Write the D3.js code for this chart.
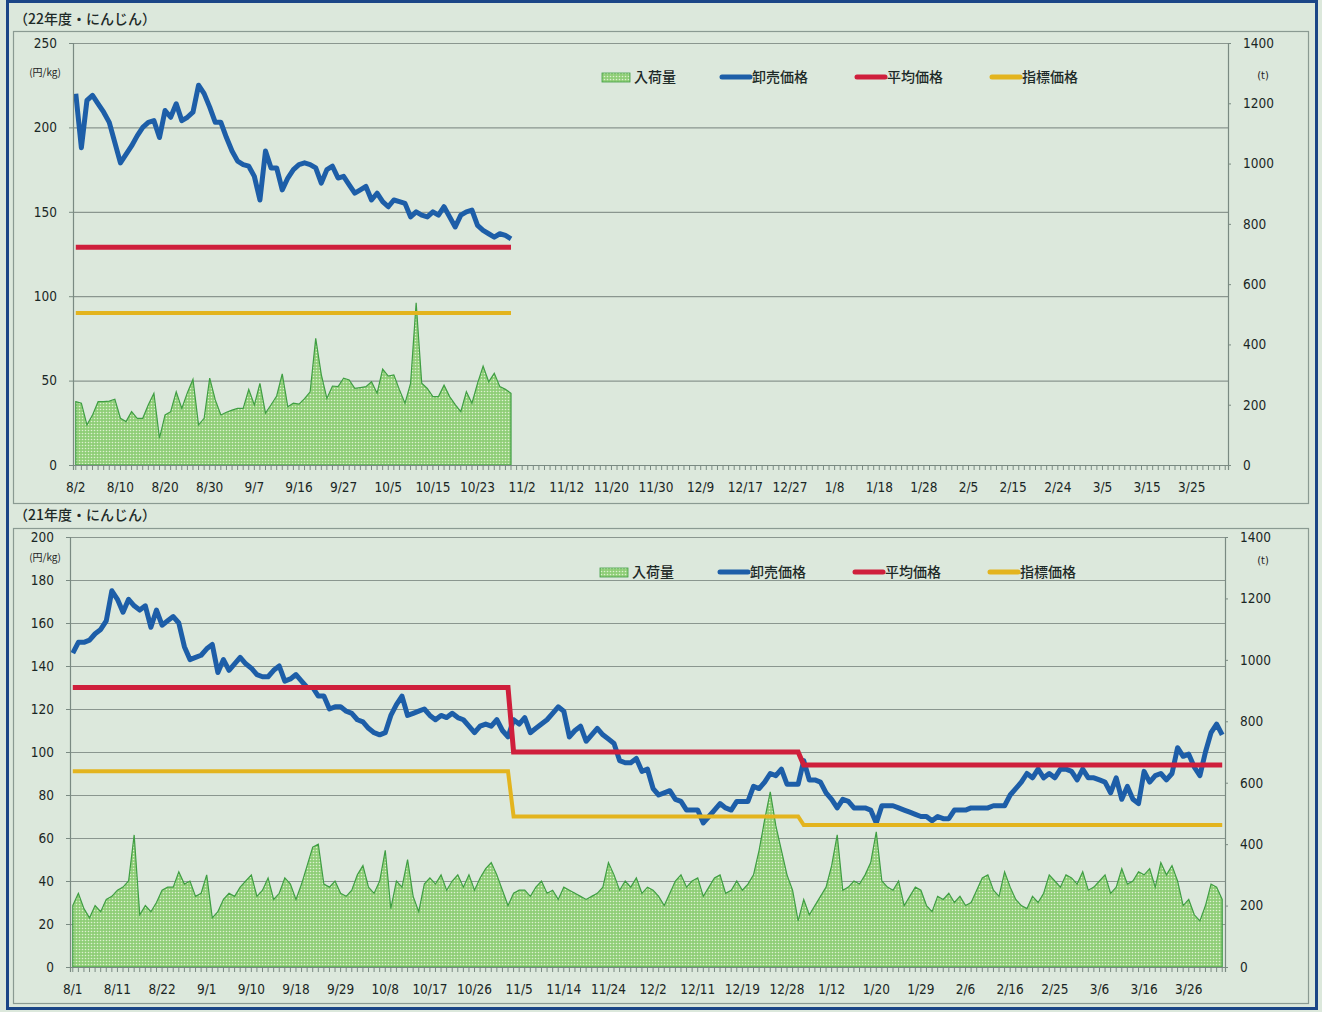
<!DOCTYPE html>
<html>
<head>
<meta charset="utf-8">
<script src="https://cdnjs.cloudflare.com/ajax/libs/d3/7.8.5/d3.min.js"></script>
<style>
  body { margin: 0; background: #dce8dc; }
  svg { display: block; }
</style>
</head>
<body>
<svg></svg>
<script>
// 22年度 (top) - market days from 8/2
var price22 = [220,188,216,219,214,209,203,191,179,184,189,195,200,203,204,194,210,206,214,204,
  206,209,225,220,212,203,203,194,186,180,178,177,171,157,186,176,176,163,170,175,
  178,179,178,176,167,175,177,170,171,166,161,163,165,157,161,156,153,157,156,155,
  147,150,148,147,150,148,153,147,141,148,150,151,142,139,137,135,137,136,134];
var volume22 = [210,205,133,166,210,210,212,218,155,144,177,155,155,200,238,89,166,177,243,188,
  240,284,133,155,288,216,166,175,182,188,188,251,199,271,172,200,229,302,193,205,
  202,220,243,420,300,221,262,260,288,282,254,257,260,276,238,318,295,299,250,205,
  271,538,271,254,227,227,265,227,200,177,243,205,271,328,276,304,260,251,238];
var avgLevels22 = [129];
var idxLevels22 = [90];
var breaks22 = [];
var ticks22 = ["8/2","8/10","8/20","8/30","9/7","9/16","9/27","10/5","10/15","10/23","11/2","11/12","11/20",
  "11/30","12/9","12/17","12/27","1/8","1/18","1/28","2/5","2/15","2/24","3/5","3/15","3/25"];

// 21年度 (bottom) - market days from 8/1
var price21 = [146,151,151,152,155,157,161,175,171,165,171,168,166,168,158,166,159,161,163,160,
  149,143,144,145,148,150,137,143,138,141,144,141,139,136,135,135,138,140,133,134,
  136,133,130,130,126,126,120,121,121,119,118,115,114,111,109,108,109,117,122,126,
  117,118,119,120,117,115,117,116,118,116,115,112,109,112,113,112,115,110,107,115,
  113,116,109,111,113,115,118,121,119,107,110,112,105,108,111,108,106,104,96,95,
  95,97,91,92,83,80,81,82,78,77,73,73,73,67,70,73,76,74,73,77,
  77,77,84,83,86,90,89,92,85,85,85,96,87,87,86,81,78,74,78,77,
  74,74,74,73,67,75,75,75,74,73,72,71,70,70,68,70,69,69,73,73,
  73,74,74,74,74,75,75,75,80,83,86,90,88,92,88,90,88,92,92,91,
  87,92,88,88,87,86,81,88,78,84,78,76,91,86,89,90,87,90,102,98,
  99,93,89,100,109,113,108];
var volume21 = [200,240,190,160,200,180,220,230,250,260,280,430,170,200,180,210,250,260,260,310,
  270,280,230,240,300,160,180,220,240,230,260,280,300,230,250,290,220,240,290,270,
  220,270,330,390,400,270,260,280,240,230,250,300,330,260,240,280,380,190,280,260,
  350,230,180,270,290,270,300,250,280,300,260,300,250,290,320,340,300,250,200,240,
  250,250,230,260,280,240,250,220,260,250,240,230,220,230,240,260,340,300,250,280,
  260,290,240,260,250,230,200,240,280,300,260,280,290,230,260,290,300,240,250,280,
  250,270,300,380,480,570,460,380,300,250,150,220,170,200,230,260,330,430,250,260,
  280,270,300,340,440,280,260,250,280,200,230,260,250,200,180,230,220,240,210,230,
  200,210,250,290,300,250,230,310,260,220,200,190,230,210,240,300,280,260,300,290,
  270,310,250,260,280,300,240,260,320,270,280,310,300,320,260,340,300,330,280,200,
  220,170,150,200,270,260,220];
var avgLevels21 = [130, 100, 94];
var idxLevels21 = [91, 70, 66];
var breaks21 = [79, 131];
var ticks21 = ["8/1","8/11","8/22","9/1","9/10","9/18","9/29","10/8","10/17","10/26","11/5","11/14","11/24",
  "12/2","12/11","12/19","12/28","1/12","1/20","1/29","2/6","2/16","2/25","3/6","3/16","3/26"];

var legendNames = ["入荷量", "卸売価格", "平均価格", "指標価格"];

var nDays = 207;
var width = 1322, height = 1012;
var numFont = "'DejaVu Sans Condensed', 'Liberation Sans Narrow', sans-serif";
var jpFont = "'Noto Sans CJK JP', sans-serif";
var blue = "#1d5ea8", red = "#cf1f3c", yellow = "#e3b41e", greenStroke = "#3f9e43";

var svg = d3.select('svg').attr('width', width).attr('height', height);

var defs = svg.append('defs');
var pat = defs.append('pattern').attr('id', 'dots')
  .attr('width', 3).attr('height', 3).attr('patternUnits', 'userSpaceOnUse');
pat.append('rect').attr('width', 3).attr('height', 3).attr('fill', '#8fce77');
pat.append('circle').attr('cx', 1.5).attr('cy', 1.5).attr('r', 0.8).attr('fill', '#dcf1cf');

// outer frame
svg.append('rect').attr('x', 7.5).attr('y', 1.5).attr('width', 1309).attr('height', 1007)
  .attr('fill', 'none').attr('stroke', '#1b4687').attr('stroke-width', 3);

function stepSeries(levels, breaks, n) {
  return d3.range(n).map(function(i) {
    return levels[d3.bisectRight(breaks, i)];
  });
}

function drawPanel(p) {
  var g = svg.append('g');

  g.append('rect').attr('x', 13.5).attr('y', p.boxTop + 0.5)
    .attr('width', 1295).attr('height', p.boxH)
    .attr('fill', 'none').attr('stroke', '#8a9a92').attr('stroke-width', 1.2);

  g.append('text').attr('x', 14).attr('y', p.titleY)
    .style('font-family', jpFont).style('font-size', '14px').style('font-weight', 500)
    .style('fill', '#1e2a28')
    .text(p.title);

  var x = d3.scaleBand().domain(d3.range(nDays)).range([p.left, p.right]);
  var cx = function(i) { return x(i) + x.bandwidth() / 2; };
  var y = d3.scaleLinear().domain([0, p.yMax]).range([p.bottom, p.top]);
  var yR = d3.scaleLinear().domain([0, 1400]).range([p.bottom, p.top]);

  // gridlines
  g.append('g').attr('transform', `translate(${p.left},0)`)
    .call(d3.axisLeft(y).tickValues(d3.range(p.yStep, p.yMax + 1, p.yStep))
      .tickSize(-(p.right - p.left)).tickFormat(''))
    .call(s => s.select('.domain').remove())
    .call(s => s.selectAll('line').attr('stroke', '#8a968f').attr('stroke-width', 1.2));

  // volume area
  var area = d3.area()
    .x((d, i) => cx(i))
    .y0(p.bottom)
    .y1(d => yR(d));
  g.append('path').datum(p.volume)
    .attr('d', area)
    .attr('fill', 'url(#dots)')
    .attr('stroke', greenStroke).attr('stroke-width', 1.2);

  var line = d3.line().x((d, i) => cx(i)).y(d => y(d));

  g.append('path').datum(p.price).attr('d', line)
    .attr('fill', 'none').attr('stroke', blue).attr('stroke-width', 5)
    .attr('stroke-linejoin', 'round');

  var n = p.price.length;
  g.append('path').datum(stepSeries(p.avg, p.breaks, n)).attr('d', line)
    .attr('fill', 'none').attr('stroke', red).attr('stroke-width', 5);
  g.append('path').datum(stepSeries(p.idx, p.breaks, n)).attr('d', line)
    .attr('fill', 'none').attr('stroke', yellow).attr('stroke-width', 4);

  // left axis
  var leftAxis = g.append('g').attr('transform', `translate(${p.left},0)`)
    .call(d3.axisLeft(y).tickValues(d3.range(0, p.yMax + 1, p.yStep)).tickSize(4).tickPadding(12));
  // right axis
  var rightAxis = g.append('g').attr('transform', `translate(${p.right},0)`)
    .call(d3.axisRight(yR).tickValues(d3.range(0, 1401, 200)).tickFormat(d3.format('d'))
      .tickSize(3).tickPadding(12));
  // x axis: one tick per market day, label every 8th
  var minorAxis = g.append('g').attr('transform', `translate(0,${p.bottom})`)
    .call(d3.axisBottom(x).tickSize(5).tickFormat(''));
  var labelAxis = g.append('g').attr('transform', `translate(0,${p.bottom})`)
    .call(d3.axisBottom(x).tickValues(d3.range(0, nDays, 8))
      .tickFormat((d, i) => p.ticks[i]).tickSize(0).tickPadding(17));
  labelAxis.select('.domain').remove();

  [leftAxis, rightAxis, minorAxis, labelAxis].forEach(function(a) {
    a.selectAll('.domain').attr('stroke', '#7a8a82').attr('stroke-width', 1.2);
    a.selectAll('line').attr('stroke', '#7a8a82');
    a.selectAll('text').style('font-family', numFont).style('font-size', '13.5px')
      .style('fill', '#1a2624');
  });

  g.append('text').attr('x', 45).attr('y', p.unitY)
    .attr('text-anchor', 'middle')
    .style('font-family', jpFont).style('font-size', '10px').style('fill', '#222')
    .text('(円/kg)');
  g.append('text').attr('x', 1263).attr('y', p.unitY + 3)
    .attr('text-anchor', 'middle')
    .style('font-family', numFont).style('font-size', '11px').style('fill', '#222')
    .text('(t)');

  // legend
  var lx = p.legendX;
  var items = [0, 118, 253, 388];
  items.forEach(function(off, k) {
    var ix = lx + off;
    if (k === 0) {
      g.append('rect').attr('x', ix).attr('y', p.legendY - 4).attr('width', 28).attr('height', 9)
        .attr('fill', 'url(#dots)').attr('stroke', greenStroke).attr('stroke-width', 0.8);
    } else {
      g.append('line').attr('x1', ix + 2).attr('x2', ix + 30)
        .attr('y1', p.legendY).attr('y2', p.legendY)
        .attr('stroke', [blue, red, yellow][k - 1]).attr('stroke-width', 5)
        .attr('stroke-linecap', 'round');
    }
    g.append('text').attr('x', ix + 32).attr('y', p.legendY + 5)
      .style('font-family', jpFont).style('font-size', '14px').style('font-weight', 500)
      .style('fill', '#1e2a28')
      .text(legendNames[k]);
  });
}

drawPanel({
  title: '（22年度・にんじん）', titleY: 24, boxTop: 31, boxH: 472,
  left: 73, right: 1228, top: 43, bottom: 465, yMax: 250, yStep: 50,
  price: price22, volume: volume22, avg: avgLevels22, idx: idxLevels22, breaks: breaks22,
  ticks: ticks22, unitY: 76, legendX: 602, legendY: 77
});

drawPanel({
  title: '（21年度・にんじん）', titleY: 520, boxTop: 528, boxH: 475,
  left: 70, right: 1225, top: 537, bottom: 967, yMax: 200, yStep: 20,
  price: price21, volume: volume21, avg: avgLevels21, idx: idxLevels21, breaks: breaks21,
  ticks: ticks21, unitY: 561, legendX: 600, legendY: 572
});
</script>
</body>
</html>
